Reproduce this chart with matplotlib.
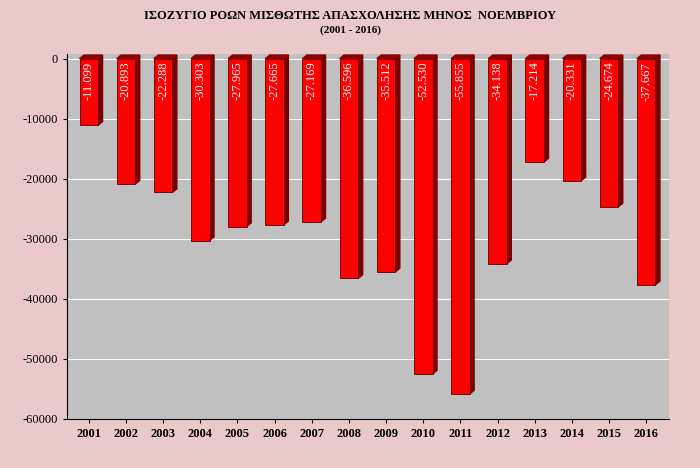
import matplotlib.pyplot as plt
import numpy as np

years = ["2001", "2002", "2003", "2004", "2005", "2006", "2007", "2008",
         "2009", "2010", "2011", "2012", "2013", "2014", "2015", "2016"]
values = [-11099, -20893, -22288, -30303, -27965, -27665, -27169, -36596,
          -35512, -52530, -55855, -34138, -17214, -20331, -24674, -37667]
yticks = [0, -10000, -20000, -30000, -40000, -50000, -60000]

fig = plt.figure(figsize=(7, 4.68), dpi=100, facecolor="#e9c9c9")
ax = fig.add_axes([0.095, 0.105, 0.86, 0.78])
ax.set_facecolor("#c0c0c0")

x = np.arange(len(years))
w = 0.5
# fake 3D side/top of each bar
for xi, v in zip(x, values):
    ax.fill([xi + w / 2, xi + w / 2 + 0.12, xi + w / 2 + 0.12, xi + w / 2],
            [0, 600, v + 600, v], color="#7a0000", zorder=2)
    ax.fill([xi - w / 2, xi - w / 2 + 0.12, xi + w / 2 + 0.12, xi + w / 2],
            [0, 600, 600, 0], color="#900000", zorder=2)
ax.bar(x, values, width=w, color="#ff0000", edgecolor="#600000", linewidth=0.6, zorder=3)

for xi, v in zip(x, values):
    lab = f"{v:,}".replace(",", ".")
    ax.text(xi, -500, lab, rotation=90, ha="center", va="top", color="white",
            fontsize=9, fontfamily="Liberation Serif", zorder=4)

ax.set_ylim(-60000, 800)
ax.set_xlim(-0.6, len(years) - 0.4)
ax.set_yticks(yticks)
ax.set_yticklabels([str(t) for t in yticks], fontfamily="Liberation Serif", fontsize=9)
ax.set_xticks(x)
ax.set_xticklabels(years, fontfamily="Liberation Serif", fontsize=9, fontweight="bold")
ax.grid(axis="y", color="white", linewidth=0.8, zorder=1)
for s in ["top", "right"]:
    ax.spines[s].set_visible(False)
ax.tick_params(length=3)

fig.text(0.5, 0.965, "ΙΣΟΖΥΓΙΟ ΡΟΩΝ ΜΙΣΘΩΤΗΣ ΑΠΑΣΧΟΛΗΣΗΣ ΜΗΝΟΣ  ΝΟΕΜΒΡΙΟΥ",
         ha="center", va="center", fontsize=9, fontweight="bold", fontfamily="Liberation Serif")
fig.text(0.5, 0.935, "(2001 - 2016)", ha="center", va="center", fontsize=8,
         fontweight="bold", fontfamily="Liberation Serif")

fig.savefig("out.png", dpi=100, facecolor=fig.get_facecolor())
